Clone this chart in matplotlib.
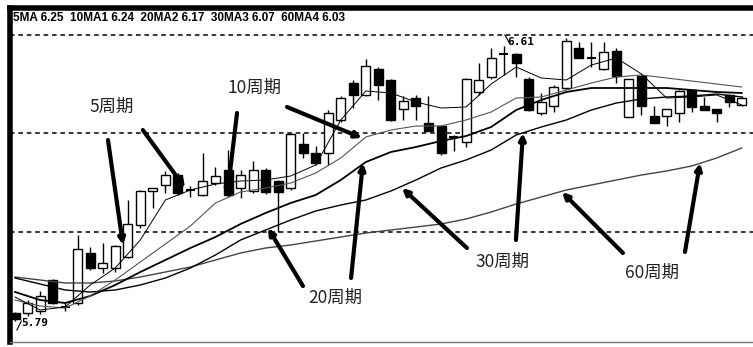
import matplotlib
matplotlib.use('Agg')
import matplotlib.pyplot as plt
from matplotlib.patches import Rectangle

plt.rcParams['font.family'] = ['Noto Sans CJK SC', 'DejaVu Sans']

# candle data, index 1..59
opens = [5.811, 5.811, 5.817, 5.910, 5.829, 5.841, 5.991, 5.946, 5.946, 5.979,
         6.075, 6.177, 6.195, 6.225, 6.180, 6.165, 6.201, 6.240, 6.186, 6.177,
         6.240, 6.207, 6.186, 6.318, 6.291, 6.291, 6.390, 6.501, 6.465, 6.543,
         6.510, 6.423, 6.456, 6.381, 6.372, 6.339, 6.324, 6.474, 6.519, 6.588,
         6.588, 6.513, 6.411, 6.432, 6.486, 6.606, 6.576, 6.543, 6.597, 6.399,
         6.522, 6.402, 6.402, 6.411, 6.480, 6.432, 6.423, 6.465, 6.435]
highs = [5.814, 5.850, 5.877, 5.913, 5.844, 6.045, 6.009, 6.021, 6.015, 6.150,
         6.180, 6.186, 6.237, 6.231, 6.192, 6.291, 6.249, 6.300, 6.240, 6.267,
         6.246, 6.210, 6.351, 6.351, 6.312, 6.420, 6.462, 6.510, 6.573, 6.549,
         6.513, 6.462, 6.465, 6.462, 6.375, 6.345, 6.516, 6.561, 6.606, 6.612,
         6.591, 6.519, 6.471, 6.495, 6.636, 6.624, 6.624, 6.624, 6.606, 6.513,
         6.525, 6.432, 6.423, 6.480, 6.483, 6.459, 6.423, 6.468, 6.462]
lows = [5.787, 5.802, 5.808, 5.838, 5.817, 5.835, 5.940, 5.931, 5.934, 5.976,
        6.066, 6.126, 6.171, 6.165, 6.159, 6.162, 6.195, 6.159, 6.156, 6.171,
        6.168, 6.054, 6.180, 6.276, 6.255, 6.255, 6.384, 6.426, 6.462, 6.450,
        6.387, 6.390, 6.390, 6.357, 6.285, 6.297, 6.309, 6.465, 6.513, 6.525,
        6.519, 6.417, 6.405, 6.414, 6.483, 6.576, 6.549, 6.540, 6.501, 6.399,
        6.405, 6.381, 6.372, 6.384, 6.414, 6.420, 6.384, 6.429, 6.432]
closes = [5.793, 5.841, 5.862, 5.841, 5.829, 6.003, 5.946, 5.961, 6.012, 6.078,
          6.177, 6.186, 6.225, 6.171, 6.180, 6.207, 6.222, 6.165, 6.225, 6.240,
          6.174, 6.174, 6.348, 6.291, 6.261, 6.411, 6.456, 6.465, 6.552, 6.495,
          6.390, 6.447, 6.432, 6.357, 6.291, 6.339, 6.513, 6.510, 6.576, 6.588,
          6.561, 6.420, 6.444, 6.489, 6.627, 6.576, 6.576, 6.594, 6.522, 6.513,
          6.432, 6.381, 6.423, 6.477, 6.429, 6.420, 6.411, 6.444, 6.456]

# moving averages, sampled every second candle
ma_idx = list(range(1, 60, 2))
ma5 = [5.859, 5.820, 5.829, 5.895, 5.946, 6.030, 6.150, 6.180, 6.198, 6.207,
       6.210, 6.222, 6.255, 6.390, 6.477, 6.471, 6.444, 6.426, 6.429, 6.498,
       6.549, 6.516, 6.510, 6.555, 6.576, 6.528, 6.456, 6.459, 6.465, 6.435]
ma10 = [5.850, 5.832, 5.826, 5.862, 5.910, 5.964, 6.018, 6.072, 6.141, 6.174,
        6.186, 6.201, 6.231, 6.276, 6.339, 6.360, 6.372, 6.372, 6.390, 6.414,
        6.456, 6.459, 6.480, 6.501, 6.519, 6.525, 6.516, 6.507, 6.498, 6.489]
ma20 = [5.874, 5.850, 5.841, 5.862, 5.895, 5.934, 5.970, 6.006, 6.039, 6.078,
        6.111, 6.141, 6.165, 6.210, 6.264, 6.294, 6.309, 6.327, 6.342, 6.369,
        6.420, 6.450, 6.474, 6.486, 6.486, 6.486, 6.486, 6.480, 6.474, 6.471]
ma30 = [5.916, 5.898, 5.880, 5.874, 5.880, 5.895, 5.916, 5.946, 5.985, 6.030,
        6.060, 6.090, 6.117, 6.135, 6.150, 6.177, 6.210, 6.246, 6.270, 6.300,
        6.345, 6.369, 6.390, 6.420, 6.441, 6.453, 6.459, 6.462, 6.468, 6.459]
ma60 = [5.919, 5.910, 5.901, 5.901, 5.907, 5.919, 5.934, 5.949, 5.970, 5.991,
        6.006, 6.015, 6.027, 6.039, 6.051, 6.060, 6.069, 6.078, 6.093, 6.114,
        6.138, 6.159, 6.180, 6.195, 6.210, 6.225, 6.237, 6.252, 6.276, 6.306]

grid_levels = [6.645, 6.351, 6.054]
header = "5MA 6.25  10MA1 6.24  20MA2 6.17  30MA3 6.07  60MA4 6.03"

# labels: text, text position, list of (tail, tip)
labels = ["5周期", "10周期", "20周期", "30周期", "60周期"]
label_pos = [(8.74, 6.429), (20.15, 6.486), (26.54, 5.856), (39.87, 5.964), (51.84, 5.931)]
arrows = [
    [((8.42, 6.33), (9.62, 6.015)), ((11.2, 6.36), (14.57, 6.186))],
    [((18.72, 6.411), (17.92, 6.159)), ((22.71, 6.429), (28.69, 6.336))],
    [((23.98, 5.892), (21.19, 6.066)), ((27.82, 5.916), (28.77, 6.261))],
    [((37.07, 6.006), (31.89, 6.186)), ((40.98, 6.03), (41.54, 6.351))],
    [((49.52, 5.991), (44.66, 6.174)), ((54.47, 5.994), (55.67, 6.261))],
]

fig = plt.figure(figsize=(7.53, 3.47), dpi=100)
ax = fig.add_axes([10/753, 5/347, 743/753, 334/347])
ax.set_xlim(0.6, 59.9)
ax.set_ylim(5.724, 6.726)

w = 0.72
for i in range(len(opens)):
    x = i + 1
    o, h, l, c = opens[i], highs[i], lows[i], closes[i]
    ax.vlines(x, l, h, color='black', lw=1, zorder=2)
    if o == c:
        ax.hlines(o, x - w/2, x + w/2, color='black', lw=1.5, zorder=2)
    else:
        fc = 'black' if c < o else 'white'
        ax.add_patch(Rectangle((x - w/2, min(o, c)), w, abs(c - o),
                               facecolor=fc, edgecolor='black', lw=1, zorder=2.5))

ax.plot(ma_idx, ma60, color='#444444', lw=1.0, zorder=3)
ax.plot(ma_idx, ma30, color='black', lw=1.0, zorder=3)
ax.plot(ma_idx, ma20, color='black', lw=1.3, zorder=3)
ax.plot(ma_idx, ma10, color='#555555', lw=0.8, zorder=3)
ax.plot(ma_idx, ma5, color='black', lw=0.7, zorder=3)

for g in grid_levels:
    ax.axhline(g, color='black', ls=(0, (3, 2.5)), lw=1.1, zorder=1)

for txt, pos, arrs in zip(labels, label_pos, arrows):
    ax.text(pos[0], pos[1], txt, fontsize=12.5, ha='center', va='center', color='#222222')
    for tail, tip in arrs:
        ax.annotate('', xy=tip, xytext=tail, zorder=4,
                    arrowprops=dict(arrowstyle='-|>', lw=3, color='black',
                                    mutation_scale=9, shrinkA=0, shrinkB=0))

# high / low marks
ax.text(40.3, 6.624, "6.61", fontsize=8, fontweight='bold', family='DejaVu Sans Mono',
        ha='left', va='center')
ax.plot([40.1, 40.5], [6.645, 6.618], color='black', lw=0.8)
ax.text(1.5, 5.781, "5.79", fontsize=8, fontweight='bold', family='DejaVu Sans Mono',
        ha='left', va='center')
ax.plot([1.15, 1.5], [5.76, 5.787], color='black', lw=0.8)

fig.text(13/753, 1 - 18/347, header, fontsize=8.5, fontweight='bold',
         family=['Liberation Sans Narrow', 'Liberation Sans'], ha='left', va='center')

ax.set_xticks([])
ax.set_yticks([])
ax.spines['right'].set_visible(False)
ax.spines['left'].set_linewidth(4)
ax.spines['top'].set_linewidth(4)
ax.spines['bottom'].set_color('#777777')
ax.spines['bottom'].set_linewidth(1)

fig.savefig('out.png', dpi=100)
